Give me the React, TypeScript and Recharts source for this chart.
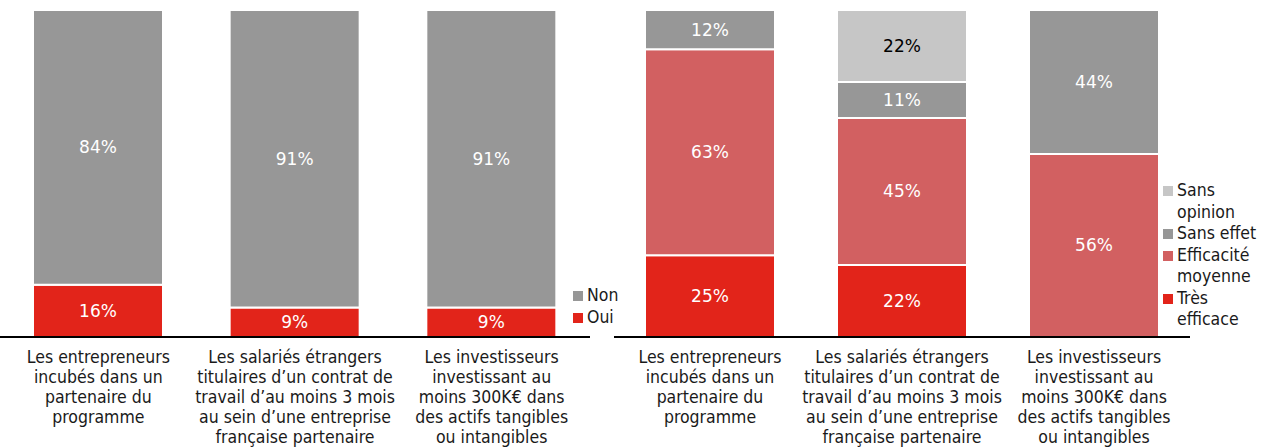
import React from "react";
import { BarChart, Bar, XAxis, YAxis, LabelList, Legend } from "recharts";

const categoryLines: string[][] = [
  ["Les entrepreneurs", "incubés dans un", "partenaire du", "programme"],
  ["Les salariés étrangers", "titulaires d’un contrat de", "travail d’au moins 3 mois", "au sein d’une entreprise", "française partenaire"],
  ["Les investisseurs", "investissant au", "moins 300K€ dans", "des actifs tangibles", "ou intangibles"],
];
const categories = ["entrepreneurs", "salaries", "investisseurs"];

const ouiValues = [16, 9, 9];
const nonValues = [84, 91, 91];

const tresEfficaceValues = [25, 22, 0];
const efficaciteMoyenneValues = [63, 45, 56];
const sansEffetValues = [12, 11, 44];
const sansOpinionValues = [0, 22, 0];

const leftLegendOrder = ["Non", "Oui"];
const rightLegendOrder = ["Sans opinion", "Sans effet", "Efficacité moyenne", "Très efficace"];

const RED = "#E2241A";
const GRAY = "#979797";
const PINK = "#D26061";
const LIGHT = "#C6C6C6";

const leftData = categories.map((c, i) => ({ cat: c, oui: ouiValues[i], non: nonValues[i] }));
const rightData = categories.map((c, i) => ({
  cat: c,
  tres: tresEfficaceValues[i],
  moyenne: efficaciteMoyenneValues[i],
  effet: sansEffetValues[i],
  opinion: sansOpinionValues[i],
}));

const LABEL_FONT = "'DejaVu Sans Condensed', 'Liberation Sans Narrow', sans-serif";
const VALUE_FONT = "'DejaVu Sans', Verdana, sans-serif";

const CatTick = (props: any) => {
  const { x, y, payload } = props;
  const lines = categoryLines[payload.index] || [];
  return (
    <text x={x} y={y} textAnchor="middle" fill="#1a1a1a" fontFamily={LABEL_FONT} fontSize={17.5}>
      {lines.map((l, i) => (
        <tspan key={i} x={x} dy={i === 0 ? 18 : 20}>
          {l}
        </tspan>
      ))}
    </text>
  );
};

const makeValueLabel = (color: string) => (props: any) => {
  const { x, y, width, height, value } = props;
  if (!value) return null;
  return (
    <text
      x={x + width / 2}
      y={y + height / 2}
      textAnchor="middle"
      dominantBaseline="central"
      fill={color}
      fontFamily={VALUE_FONT}
      fontSize={17}
    >
      {value}%
    </text>
  );
};

const legendLines: Record<string, string[]> = {
  Non: ["Non"],
  Oui: ["Oui"],
  "Sans opinion": ["Sans", "opinion"],
  "Sans effet": ["Sans effet"],
  "Efficacité moyenne": ["Efficacité", "moyenne"],
  "Très efficace": ["Très", "efficace"],
};

const makeLegend = (order: string[]) => (props: any) => {
  const items = [...(props.payload || [])].sort(
    (a: any, b: any) => order.indexOf(a.value) - order.indexOf(b.value)
  );
  return (
    <div style={{ fontFamily: LABEL_FONT, fontSize: 17.5, color: "#1a1a1a", lineHeight: "21.5px" }}>
      {items.map((it: any, i: number) => (
        <div key={i} style={{ display: "flex", alignItems: "flex-start" }}>
          <div
            style={{
              width: 10,
              height: 10,
              background: it.color,
              marginTop: 6,
              marginRight: 4,
              flex: "none",
            }}
          />
          <div>
            {(legendLines[it.value] || [it.value]).map((l: string, j: number) => (
              <div key={j} style={{ whiteSpace: "nowrap" }}>{l}</div>
            ))}
          </div>
        </div>
      ))}
    </div>
  );
};

export default function App() {
  return (
    <div style={{ position: "absolute", left: 0, top: 0, width: 1269, height: 448, background: "#fff" }}>
      <div style={{ position: "absolute", left: 0, top: 0 }}>
        <BarChart width={612} height={448} data={leftData} margin={{ top: 10, right: 22, bottom: 0, left: 0 }}>
          <XAxis
            dataKey="cat"
            height={111}
            tick={<CatTick />}
            tickLine={false}
            axisLine={{ stroke: "#000", strokeWidth: 2 }}
            interval={0}
          />
          <YAxis hide domain={[0, 100]} />
          <Legend
            layout="vertical"
            align="center"
            verticalAlign="middle"
            content={makeLegend(leftLegendOrder)}
            wrapperStyle={{ position: "absolute", left: 573, top: 285, width: 60 }}
          />
          <Bar dataKey="oui" name="Oui" stackId="a" fill={RED} stroke="#fff" strokeWidth={2} barSize={130} isAnimationActive={false}>
            <LabelList dataKey="oui" content={makeValueLabel("#fff")} />
          </Bar>
          <Bar dataKey="non" name="Non" stackId="a" fill={GRAY} stroke="#fff" strokeWidth={2} barSize={130} isAnimationActive={false}>
            <LabelList dataKey="non" content={makeValueLabel("#fff")} />
          </Bar>
        </BarChart>
      </div>
      <div style={{ position: "absolute", left: 612, top: 0 }}>
        <BarChart width={657} height={448} data={rightData} margin={{ top: 10, right: 79, bottom: 0, left: 2 }}>
          <XAxis
            dataKey="cat"
            height={111}
            tick={<CatTick />}
            tickLine={false}
            axisLine={{ stroke: "#000", strokeWidth: 2 }}
            interval={0}
          />
          <YAxis hide domain={[0, 100]} />
          <Legend
            layout="vertical"
            align="center"
            verticalAlign="middle"
            content={makeLegend(rightLegendOrder)}
            wrapperStyle={{ position: "absolute", left: 551, top: 180, width: 100 }}
          />
          <Bar dataKey="tres" name="Très efficace" stackId="b" fill={RED} stroke="#fff" strokeWidth={2} barSize={130} isAnimationActive={false}>
            <LabelList dataKey="tres" content={makeValueLabel("#fff")} />
          </Bar>
          <Bar dataKey="moyenne" name="Efficacité moyenne" stackId="b" fill={PINK} stroke="#fff" strokeWidth={2} barSize={130} isAnimationActive={false}>
            <LabelList dataKey="moyenne" content={makeValueLabel("#fff")} />
          </Bar>
          <Bar dataKey="effet" name="Sans effet" stackId="b" fill={GRAY} stroke="#fff" strokeWidth={2} barSize={130} isAnimationActive={false}>
            <LabelList dataKey="effet" content={makeValueLabel("#fff")} />
          </Bar>
          <Bar dataKey="opinion" name="Sans opinion" stackId="b" fill={LIGHT} stroke="#fff" strokeWidth={2} barSize={130} isAnimationActive={false}>
            <LabelList dataKey="opinion" content={makeValueLabel("#000")} />
          </Bar>
        </BarChart>
      </div>
    </div>
  );
}
